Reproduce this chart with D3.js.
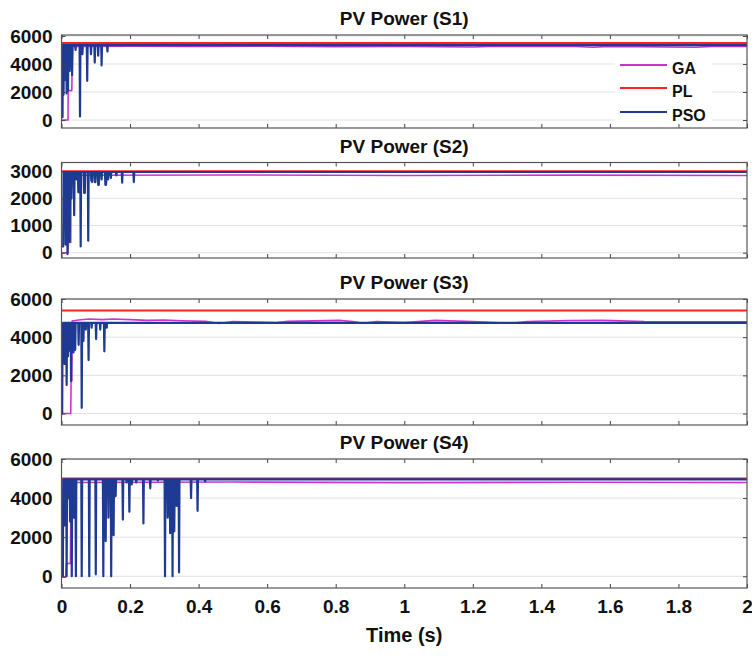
<!DOCTYPE html>
<html lang="en">
  <head>
    <meta charset="UTF-8" />
    <title>PV Power (S1-S4)</title>
    <script src="https://d3js.org/d3.v7.min.js"></script>
    <style>
      body { margin: 0; background: #fff; }
      text { font-family: "Liberation Sans", Arial, sans-serif; font-weight: bold; fill: #111; }
    </style>
  </head>
  <body>
    <svg id="chart" width="752" height="659"></svg>

    <script>
      // ---- data ----
      const timeTicks = [0, 0.2, 0.4, 0.6, 0.8, 1, 1.2, 1.4, 1.6, 1.8, 2];
      const panelTitles = ["PV Power (S1)", "PV Power (S2)", "PV Power (S3)", "PV Power (S4)"];
      const yTicksS1 = [0, 2000, 4000, 6000];
      const yTicksS2 = [0, 1000, 2000, 3000];
      const yTicksS3 = [0, 2000, 4000, 6000];
      const yTicksS4 = [0, 2000, 4000, 6000];
      const seriesNames = ["GA", "PL", "PSO"];

      // PL (reference power) per scenario
      const plS1 = [[0, 5500], [2, 5500]];
      const plS2 = [[0, 3000], [2, 3000]];
      const plS3 = [[0, 5400], [2, 5400]];
      const plS4 = [[0, 5000], [2, 5000]];

      // GA traces [time, power]
      const gaS1 = [[0, 0], [0.019, 0], [0.0195, 2100], [0.03, 2100], [0.032, 5250], [0.2, 5270],
        [0.4, 5250], [0.6, 5270], [0.8, 5240], [1.0, 5260], [1.2, 5210], [1.25, 5260], [1.5, 5250],
        [1.55, 5200], [1.6, 5260], [1.85, 5200], [1.9, 5260], [2, 5250]];
      const gaS2 = [[0, 0], [0.019, 0], [0.02, 380], [0.027, 380], [0.028, 2850], [0.5, 2860],
        [1.0, 2840], [1.5, 2855], [2, 2840]];
      const gaS3 = [[0, 0], [0.027, 0], [0.028, 1700], [0.03, 1700], [0.031, 4850], [0.05, 4900],
        [0.08, 4950], [0.12, 4920], [0.15, 4950], [0.2, 4920], [0.25, 4880], [0.3, 4900],
        [0.35, 4860], [0.42, 4830], [0.46, 4720], [0.5, 4820], [0.62, 4760], [0.66, 4830],
        [0.81, 4880], [0.85, 4820], [0.88, 4730], [0.92, 4820], [1.0, 4770], [1.09, 4880],
        [1.2, 4820], [1.31, 4730], [1.36, 4820], [1.48, 4870], [1.58, 4880], [1.7, 4820],
        [1.85, 4810], [2, 4810]];
      const gaS4 = [[0, -50], [0.012, -50], [0.014, 650], [0.026, 650], [0.028, 4800], [0.5, 4820],
        [1.0, 4790], [1.5, 4810], [2, 4800]];

      // PSO traces: start, settled level, and [time, dip value] of each drop
      const psoStartS1 = [[0, 200], [0.003, 200], [0.004, 5350]];
      const psoLevelS1 = 5350;
      const psoDipsS1 = [[0.006, 1800], [0.01, 2860], [0.013, 3800], [0.015, 1900], [0.019, 2100],
        [0.024, 3500], [0.031, 3200], [0.041, 5000], [0.054, 250], [0.061, 4700], [0.075, 2800],
        [0.086, 4700], [0.097, 4100], [0.107, 4600], [0.117, 3900], [0.134, 4900]];

      const psoStartS2 = [[0, 230], [0.005, 230], [0.006, 2970]];
      const psoLevelS2 = 2970;
      const psoDipsS2 = [[0.012, 300], [0.0175, -50], [0.024, 400], [0.029, 2000], [0.037, 1380],
        [0.044, 2700], [0.049, 2230], [0.051, 2230], [0.056, 230], [0.066, 2200], [0.068, 2200],
        [0.078, 440], [0.087, 2650], [0.089, 2600], [0.097, 2600], [0.099, 2600], [0.107, 2500],
        [0.109, 2500], [0.117, 2700], [0.128, 2500], [0.13, 2500], [0.136, 2700], [0.144, 2750],
        [0.16, 2850], [0.177, 2580], [0.211, 2600]];

      const psoStartS3 = [[0, 0], [0.002, 0], [0.003, 4200]];
      const psoLevelS3 = 4750;
      const psoDipsS3 = [[0.006, 3500], [0.009, 2600], [0.015, 1500], [0.019, 3000], [0.022, 3300],
        [0.028, 1700], [0.035, 3200], [0.04, 3340], [0.05, 3600], [0.059, 300], [0.064, 3800],
        [0.071, 4400], [0.079, 2800], [0.088, 4500], [0.101, 3900], [0.113, 4400], [0.125, 3260],
        [0.132, 4500]];

      const psoStartS4 = [[0, 0], [0.004, 0], [0.005, 4960]];
      const psoLevelS4 = 4960;
      const psoDipsS4 = [[0.01, 2600], [0.015, 0], [0.02, 4000], [0.025, 2800], [0.03, 0],
        [0.036, 3000], [0.042, 0], [0.059, 0], [0.081, 0], [0.1, 100], [0.122, 0], [0.129, 1800],
        [0.137, 3000], [0.145, 0], [0.152, 2100], [0.158, 4100], [0.179, 2900], [0.19, 4800],
        [0.198, 3300], [0.205, 4700], [0.218, 4800], [0.239, 2700], [0.259, 4500], [0.281, 4900],
        [0.302, 0], [0.31, 3000], [0.317, 2200], [0.324, 0], [0.329, 2300], [0.336, 3600],
        [0.343, 200], [0.378, 4000], [0.397, 3350], [0.419, 4850]];

      // build a polyline for the PSO trace from its dips
      function psoLine(start, level, dips) {
        const pts = start.slice();
        dips.forEach(([t, v]) => {
          pts.push([t - 0.0012, level], [t, v], [t + 0.0012, level]);
        });
        pts.push([2, level]);
        return pts;
      }

      const color = d3.scaleOrdinal().domain(seriesNames).range(["#cc33cc", "#ff1f1f", "#1f3a93"]);

      const panels = [
        { title: panelTitles[0], top: 35, bottom: 128, domain: [-570, 6070], ticks: yTicksS1,
          ga: gaS1, pl: plS1, pso: psoLine(psoStartS1, psoLevelS1, psoDipsS1) },
        { title: panelTitles[1], top: 162.5, bottom: 258, domain: [-195, 3320], ticks: yTicksS2,
          ga: gaS2, pl: plS2, pso: psoLine(psoStartS2, psoLevelS2, psoDipsS2) },
        { title: panelTitles[2], top: 299, bottom: 425, domain: [-600, 6000], ticks: yTicksS3,
          ga: gaS3, pl: plS3, pso: psoLine(psoStartS3, psoLevelS3, psoDipsS3) },
        { title: panelTitles[3], top: 459, bottom: 588, domain: [-600, 6000], ticks: yTicksS4,
          ga: gaS4, pl: plS4, pso: psoLine(psoStartS4, psoLevelS4, psoDipsS4) },
      ];

      const svg = d3.select("#chart");
      const left = 61.5, right = 747;
      const x = d3.scaleLinear().domain([0, 2]).range([left, right]);

      panels.forEach((p, i) => {
        const y = d3.scaleLinear().domain(p.domain).range([p.bottom, p.top]);
        const g = svg.append("g");

        // horizontal grid
        g.selectAll(".grid")
          .data(p.ticks)
          .enter()
          .append("line")
          .attr("x1", left)
          .attr("x2", right)
          .attr("y1", (d) => y(d))
          .attr("y2", (d) => y(d))
          .attr("stroke", "#e2e2e2")
          .attr("stroke-width", 1);

        // legend background sits above the grid (first panel only)
        if (i === 0) {
          g.append("rect")
            .attr("x", 615)
            .attr("y", 52)
            .attr("width", 97)
            .attr("height", 71)
            .attr("fill", "#fff");
        }

        g.append("clipPath")
          .attr("id", "clip" + i)
          .append("rect")
          .attr("x", left)
          .attr("y", p.top)
          .attr("width", right - left)
          .attr("height", p.bottom - p.top);

        const line = d3.line().x((d) => x(d[0])).y((d) => y(d[1]));
        const lines = g.append("g").attr("clip-path", `url(#clip${i})`);

        [["GA", p.ga, 1.6], ["PL", p.pl, 2], ["PSO", p.pso, 2.2]].forEach(([name, data, w]) => {
          lines.append("path")
            .datum(data)
            .attr("fill", "none")
            .attr("stroke", color(name))
            .attr("stroke-width", w)
            .attr("stroke-linejoin", "round")
            .attr("d", line);
        });

        // axes with inward ticks
        const bottomAxis = d3.axisBottom(x).tickValues(timeTicks).tickSize(-4).tickPadding(12);
        if (i < panels.length - 1) bottomAxis.tickFormat("");
        else bottomAxis.tickFormat((d) => d3.format("~g")(d));

        const axB = g.append("g").attr("transform", `translate(0,${p.bottom})`).call(bottomAxis);
        const axT = g.append("g").attr("transform", `translate(0,${p.top})`)
          .call(d3.axisTop(x).tickValues(timeTicks).tickSize(-4).tickFormat(""));
        const axL = g.append("g").attr("transform", `translate(${left},0)`)
          .call(d3.axisLeft(y).tickValues(p.ticks).tickSize(-4).tickPadding(9).tickFormat(d3.format("d")));
        const axR = g.append("g").attr("transform", `translate(${right},0)`)
          .call(d3.axisRight(y).tickValues(p.ticks).tickSize(-4).tickFormat(""));

        [axB, axT, axL, axR].forEach((a) => {
          a.select(".domain").remove();
          a.selectAll("line").attr("stroke", "#444");
          a.selectAll("text").style("font-size", "19px").attr("fill", "#111");
        });

        g.append("rect")
          .attr("x", left)
          .attr("y", p.top)
          .attr("width", right - left)
          .attr("height", p.bottom - p.top)
          .attr("fill", "none")
          .attr("stroke", "#555")
          .attr("stroke-width", 1.2);

        g.append("text")
          .attr("x", (left + right) / 2)
          .attr("y", p.top - 10)
          .attr("text-anchor", "middle")
          .style("font-size", "19px")
          .text(p.title);
      });

      // legend in first panel
      const legend = svg.append("g");
      const legendY = [65, 88, 112];
      seriesNames.forEach((name, k) => {
        legend.append("line")
          .attr("x1", 620)
          .attr("x2", 667)
          .attr("y1", legendY[k])
          .attr("y2", legendY[k])
          .attr("stroke", color(name))
          .attr("stroke-width", 2);
        legend.append("text")
          .attr("x", 672)
          .attr("y", legendY[k] + 3)
          .attr("dy", "0.35em")
          .style("font-size", "16px")
          .text(name);
      });

      svg.append("text")
        .attr("x", (left + right) / 2)
        .attr("y", 642)
        .attr("text-anchor", "middle")
        .style("font-size", "20px")
        .text("Time (s)");
    </script>
  </body>
</html>
